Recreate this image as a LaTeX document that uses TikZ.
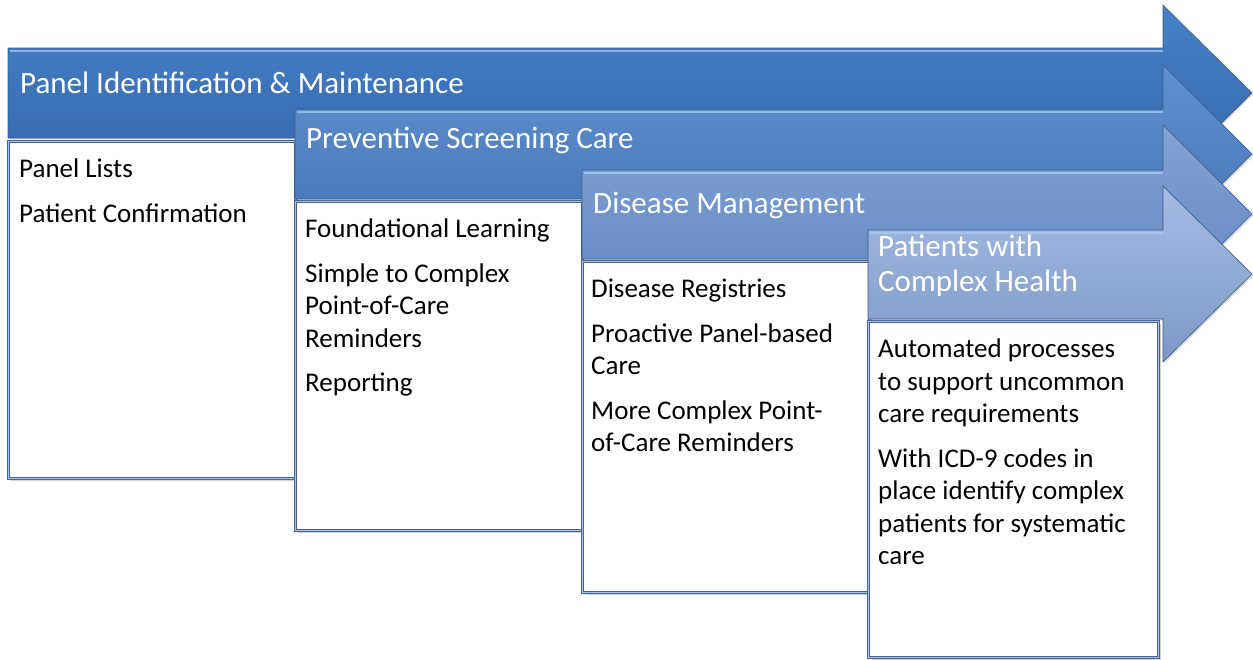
\documentclass[tikz,border=0pt]{standalone}
\usepackage{fontspec}
\setmainfont{Carlito}
\usetikzlibrary{shadows,positioning}
\definecolor{stageonetop}{RGB}{72,130,200}
\definecolor{stageonebot}{RGB}{50,101,170}
\definecolor{stagetwotop}{RGB}{95,144,208}
\definecolor{stagetwobot}{RGB}{70,117,180}
\definecolor{stagethreetop}{RGB}{128,163,216}
\definecolor{stagethreebot}{RGB}{98,133,188}
\definecolor{stagefourtop}{RGB}{165,189,228}
\definecolor{stagefourbot}{RGB}{126,152,198}
\definecolor{stageedge}{RGB}{60,90,135}
\definecolor{boxedge}{RGB}{72,100,142}
\definecolor{boxinner}{RGB}{160,195,235}
\definecolor{shine}{RGB}{170,205,245}
\tikzstyle{stagearrow} = [draw=stageedge, line width=0.6pt, drop shadow={opacity=0.25, shadow xshift=1.5pt, shadow yshift=-1.5pt}]
\tikzstyle{shineline} = [draw=shine, line width=2pt, opacity=0.7]
\tikzstyle{stagetitle} = [anchor=north west, inner sep=0pt, align=left, text=white, font=\fontsize{31}{35}\selectfont]
\tikzstyle{listbox} = [rectangle, draw=boxedge, line width=0.9pt, double=boxinner, double distance=1.1pt, fill=white, anchor=north west, inner sep=0pt, minimum width=287pt, drop shadow={opacity=0.35, shadow xshift=3pt, shadow yshift=-3pt}]
\tikzstyle{listtext} = [anchor=north west, inner sep=0pt, align=left, font=\fontsize{27}{32.5}\selectfont]

\begin{document}
\begin{tikzpicture}[x=1pt, y=-1pt]
   \useasboundingbox (0,0) rectangle (1253,659);
   % stage 1
   \path[stagearrow, top color=stageonetop, bottom color=stageonebot]
      (8,48) -- (1163,48) -- (1163,5) -- (1252,93) -- (1163,181) -- (1163,138) -- (8,138) -- cycle;
   \draw[shineline] (10,51) -- (1163,51);
   \node[stagetitle] (paneltitle) at (20,72) {Panel Identification \& Maintenance};
   \node[listbox, minimum height=337pt] (panel) at (8,141) {};
   \node[listtext] (panelitems) [below right=18pt and 11pt of panel.north west, anchor=north west]
      {Panel Lists\\[12pt]Patient Confirmation};

   % stage 2
   \path[stagearrow, top color=stagetwotop, bottom color=stagetwobot]
      (295,109) -- (1163,109) -- (1163,65) -- (1252,154) -- (1163,243) -- (1163,199) -- (295,199) -- cycle;
   \draw[shineline] (297,112) -- (1163,112);
   \node[stagetitle] (screeningtitle) at (306,127) {Preventive Screening Care};
   \node[listbox, minimum height=329pt] (screening) at (295,201) {};
   \node[listtext] (screeningitems) [below right=18pt and 10pt of screening.north west, anchor=north west]
      {Foundational Learning\\[12pt]Simple to Complex\\Point-of-Care\\Reminders\\[12pt]Reporting};

   % stage 3
   \path[stagearrow, top color=stagethreetop, bottom color=stagethreebot]
      (582,170) -- (1163,170) -- (1163,125) -- (1252,214) -- (1163,303) -- (1163,259) -- (582,259) -- cycle;
   \draw[shineline] (584,173) -- (1163,173);
   \node[stagetitle] (diseasetitle) at (593,192) {Disease Management};
   \node[listbox, minimum height=331pt] (disease) at (582,261) {};
   \node[listtext] (diseaseitems) [below right=18pt and 9pt of disease.north west, anchor=north west]
      {Disease Registries\\[12pt]Proactive Panel-based\\Care\\[12pt]More Complex Point-\\of-Care Reminders};

   % stage 4
   \path[stagearrow, top color=stagefourtop, bottom color=stagefourbot]
      (868,230) -- (1163,230) -- (1163,186) -- (1252,274) -- (1163,362) -- (1163,319) -- (868,319) -- cycle;
   \draw[shineline] (870,233) -- (1163,233);
   \node[stagetitle] (complextitle) at (878,235) {Patients with\\Complex Health};
   \node[listbox, minimum width=290pt, minimum height=336pt] (complex) at (868,321) {};
   \node[listtext] (complexitems) [below right=18pt and 10pt of complex.north west, anchor=north west]
      {Automated processes\\to support uncommon\\care requirements\\[12pt]With ICD-9 codes in\\place identify complex\\patients for systematic\\care};
\end{tikzpicture}
\end{document}
